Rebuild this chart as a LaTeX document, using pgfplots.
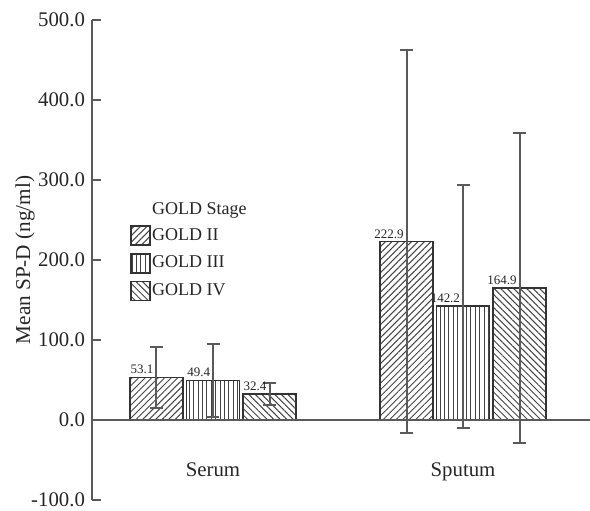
\documentclass[border=0pt]{standalone}
\usepackage{fontspec}
\setmainfont{Liberation Serif}
\usepackage{pgfplots}
\pgfplotsset{compat=1.18}
\usetikzlibrary{patterns.meta}
\definecolor{axgray}{HTML}{5A5A5A}
\definecolor{barline}{HTML}{333333}
\definecolor{hatch}{HTML}{444444}
\definecolor{txt}{HTML}{262626}
\begin{document}
\begin{tikzpicture}
\path[use as bounding box] (-46pt,-5pt) rectangle (249pt,250pt);
\begin{axis}[
  at={(0,0)}, anchor=south west,
  scale only axis, width=249pt, height=240pt,
  xmin=-0.484, xmax=1.508, ymin=-100, ymax=500,
  axis y line*=left, axis x line*=bottom,
  x axis line style={draw=none},
  y axis line style={axgray, line width=0.9pt},
  ytick={-100,0,...,500},
  xtick={0,1}, xticklabels={Serum,Sputum},
  xtick style={draw=none},
  ytick style={axgray, line width=0.9pt},
  tick align=inside, major tick length=4.5pt,
  /pgf/number format/assume math mode=true,
  yticklabel style={/pgf/number format/.cd, fixed, fixed zerofill, precision=1},
  ticklabel style={font=\fontsize{10.4}{12}\selectfont, text=txt},
  xticklabel style={anchor=base, yshift=16.5pt},
  ylabel={Mean SP-D (ng/ml)},
  every axis y label/.style={at={(axis description cs:-0.1345,0.5)}, rotate=90, anchor=center, font=\fontsize{10.6}{12}\selectfont, text=txt},
  ybar, bar width=0.212,
  point meta=y,
  nodes near coords={\pgfmathprintnumber[fixed,fixed zerofill,precision=1]{\pgfplotspointmeta}},
  every node near coord/.append style={anchor=base east, xshift=-1.1pt, yshift=1.8pt, inner sep=0pt, font=\fontsize{6.5}{8}\selectfont, text=txt},
  legend style={draw=none, fill=none, at={(axis description cs:0.076,0.6238)}, anchor=north west, font=\fontsize{9}{10}\selectfont, text=txt, row sep=3.5pt, nodes={inner sep=0.6pt}, cells={anchor=west}, inner sep=0pt},
  error bars/error bar style={axgray, line width=1pt},
  error bars/error mark options={rotate=90, axgray, mark size=3.25pt, line width=1pt},
  mylegend/.style={legend image code/.code={\draw[##1, draw=barline, line width=0.8pt] (0pt,-4.75pt) rectangle (9.5pt,4.75pt);}},
]
\addlegendimage{empty legend}
\addlegendentry{GOLD Stage}
\addplot[draw=barline, line width=0.8pt, pattern={Lines[angle=45,distance=2.3pt,line width=0.5pt]}, pattern color=hatch, bar shift=-0.226, mylegend,
  error bars/.cd, y dir=both, y explicit]
  coordinates {(0,53.1) +- (0,38.5) (1,222.9) +- (0,239.0)};
\addlegendentry{GOLD II}
\addplot[draw=barline, line width=0.8pt, pattern={Lines[angle=90,distance=2.2pt,line width=0.5pt]}, pattern color=hatch, bar shift=0, mylegend,
  error bars/.cd, y dir=both, y explicit]
  coordinates {(0,49.4) +- (0,45.5) (1,142.2) +- (0,152.0)};
\addlegendentry{GOLD III}
\addplot[draw=barline, line width=0.8pt, pattern={Lines[angle=-45,distance=2.3pt,line width=0.5pt]}, pattern color=hatch, bar shift=0.226, mylegend,
  error bars/.cd, y dir=both, y explicit]
  coordinates {(0,32.4) +- (0,14.0) (1,164.9) +- (0,193.5)};
\addlegendentry{GOLD IV}
\draw[axgray, line width=0.9pt] (axis cs:-0.484,0) -- (axis cs:1.508,0);
\end{axis}
\end{tikzpicture}
\end{document}
